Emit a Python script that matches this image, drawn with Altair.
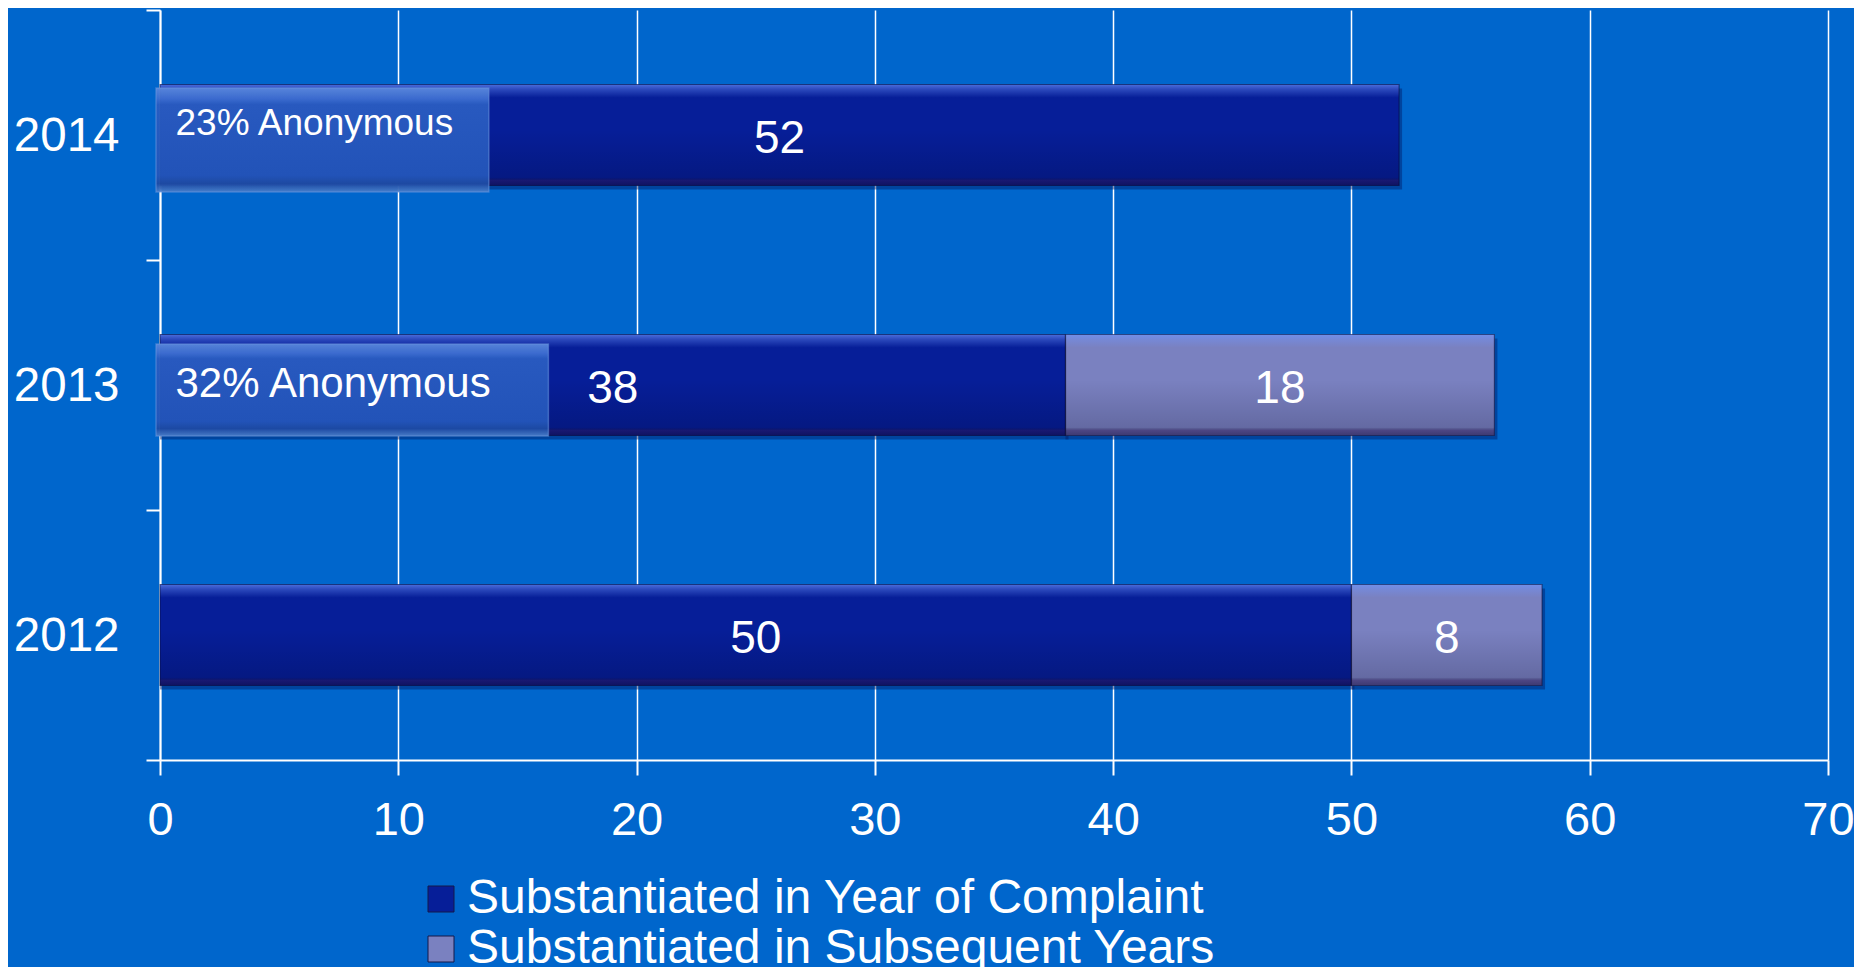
import altair as alt
import pandas as pd

# ---- data ----
years = ["2014", "2013", "2012"]
series = ["Substantiated in Year of Complaint", "Substantiated in Subsequent Years"]
in_year = [52, 38, 50]
subsequent = [None, 18, 8]
anon_years = ["2014", "2013"]
anon_start = [0, 0]
anon_extent = [13.8, 16.3]
anon_labels = ["23% Anonymous", "32% Anonymous"]
x_ticks = [0, 10, 20, 30, 40, 50, 60, 70]

rows = []
for yr, a, b in zip(years, in_year, subsequent):
    rows.append({"year": yr, "series": series[0], "order": 0, "value": a})
    if b is not None:
        rows.append({"year": yr, "series": series[1], "order": 1, "value": b})
df = pd.DataFrame(rows)
anon = pd.DataFrame({"year": anon_years, "start": anon_start, "value": anon_extent,
                     "label": anon_labels})

# ---- styles ----
BG = "#0066cc"
DARK = "#061e98"
LIGHT = "#7a81c0"
FONT = "Liberation Sans"
BAR = 101

x_scale = alt.Scale(domain=[0, 70], nice=False, zero=True)
x_axis = alt.Axis(values=x_ticks, title=None, grid=True, gridColor="white",
                  gridWidth=1.5, gridOpacity=1, domainColor="white", domainWidth=2,
                  tickColor="white", tickWidth=2, tickSize=15, labelFontSize=47,
                  labelColor="white", labelFont=FONT, labelPadding=22,
                  labelFlush=False, labelOverlap=False)
y_enc = alt.Y("year:N", sort=years,
              scale=alt.Scale(domain=years, paddingInner=0, paddingOuter=0),
              axis=alt.Axis(title=None, grid=False, domainColor="white", domainWidth=2,
                            tickColor="white", tickWidth=2, tickSize=14, tickBand="extent",
                            labelFontSize=47.5, labelColor="white", labelFont=FONT,
                            labelPadding=27, labelOffset=1.5))

bevel = alt.Gradient(gradient="linear", x1=0, x2=0, y1=0, y2=1, stops=[
    alt.GradientStop(color="rgba(110,150,255,0.65)", offset=0),
    alt.GradientStop(color="rgba(110,150,255,0.35)", offset=0.05),
    alt.GradientStop(color="rgba(110,150,255,0.0)", offset=0.13),
    alt.GradientStop(color="rgba(0,0,30,0.0)", offset=0.45),
    alt.GradientStop(color="rgba(0,0,30,0.18)", offset=0.92),
    alt.GradientStop(color="rgba(40,20,80,0.55)", offset=0.95),
    alt.GradientStop(color="rgba(20,10,60,0.6)", offset=1),
])
anon_fill = alt.Gradient(gradient="linear", x1=0, x2=0, y1=0, y2=1, stops=[
    alt.GradientStop(color="#5a88dc", offset=0),
    alt.GradientStop(color="#3f70d2", offset=0.1),
    alt.GradientStop(color="#2a5dc2", offset=0.16),
    alt.GradientStop(color="#2457bb", offset=0.84),
    alt.GradientStop(color="#1e4ca6", offset=0.92),
    alt.GradientStop(color="#4a80cc", offset=1),
])

base = alt.Chart(df).transform_stack(
    stack="value", groupby=["year"], as_=["x0", "x1"],
    sort=[alt.SortField("order", order="ascending")]
).transform_calculate(mid="(datum.x0 + datum.x1) / 2")

shadow = base.mark_bar(size=BAR, yOffset=4, x2Offset=3, color="#001a66",
                       opacity=0.45).encode(
    x=alt.X("x0:Q", scale=x_scale, axis=x_axis), x2="x1:Q", y=y_enc)

bars = base.mark_bar(size=BAR).encode(
    x=alt.X("x0:Q", scale=x_scale, axis=x_axis),
    x2="x1:Q",
    y=y_enc,
    color=alt.Color("series:N", scale=alt.Scale(domain=series, range=[DARK, LIGHT]),
                    legend=alt.Legend(title=None, orient="none", legendX=257, legendY=865,
                                      padding=0, direction="vertical", symbolType="square",
                                      symbolSize=676, symbolStrokeColor="#14184a",
                                      symbolStrokeWidth=1, symbolOpacity=1,
                                      labelFontSize=48, labelFont=FONT, labelColor="white",
                                      labelOffset=2, rowPadding=2, labelLimit=1200)),
)
shade = base.mark_bar(size=BAR, color=bevel, stroke="rgba(10,10,50,0.5)",
                      strokeWidth=1.2).encode(
    x=alt.X("x0:Q", scale=x_scale, axis=x_axis), x2="x1:Q", y=y_enc)

values = base.mark_text(font=FONT, fontSize=46, color="white", align="center",
                        baseline="middle", dy=4).encode(
    x=alt.X("mid:Q", scale=x_scale, axis=x_axis), y=y_enc, text="value:Q")

anon_style = {
    "2014": {"size": 104, "yOffset": 5, "fontSize": 37, "dy": -11},
    "2013": {"size": 92, "yOffset": 5, "fontSize": 42, "dy": -1},
}
anon_boxes, anon_texts = [], []
for yr in anon_years:
    st = anon_style[yr]
    sub = alt.Chart(anon).transform_filter(alt.datum.year == yr)
    anon_boxes.append(sub.mark_bar(size=st["size"], yOffset=st["yOffset"], xOffset=-4,
                                   color=anon_fill, stroke="#6b98e0", strokeOpacity=0.55,
                                   strokeWidth=1.5, opacity=0.95).encode(
        x=alt.X("start:Q", scale=x_scale, axis=x_axis), x2="value:Q", y=y_enc))
    anon_texts.append(sub.mark_text(font=FONT, fontSize=st["fontSize"], color="white",
                                    align="left", baseline="middle", dx=15.5,
                                    dy=st["dy"]).encode(
        x=alt.X("start:Q", scale=x_scale, axis=x_axis), y=y_enc, text="label:N"))

chart = alt.layer(shadow, bars, shade, *anon_boxes, values, *anon_texts).properties(
    width=1668, height=750,
    padding={"left": 152, "top": 2, "right": 26, "bottom": 207},
    autosize=alt.AutoSizeParams(type="none"),
    background=BG,
).configure_view(stroke=None)

chart.save("out.html", embed_options={"renderer": "svg", "actions": False})
